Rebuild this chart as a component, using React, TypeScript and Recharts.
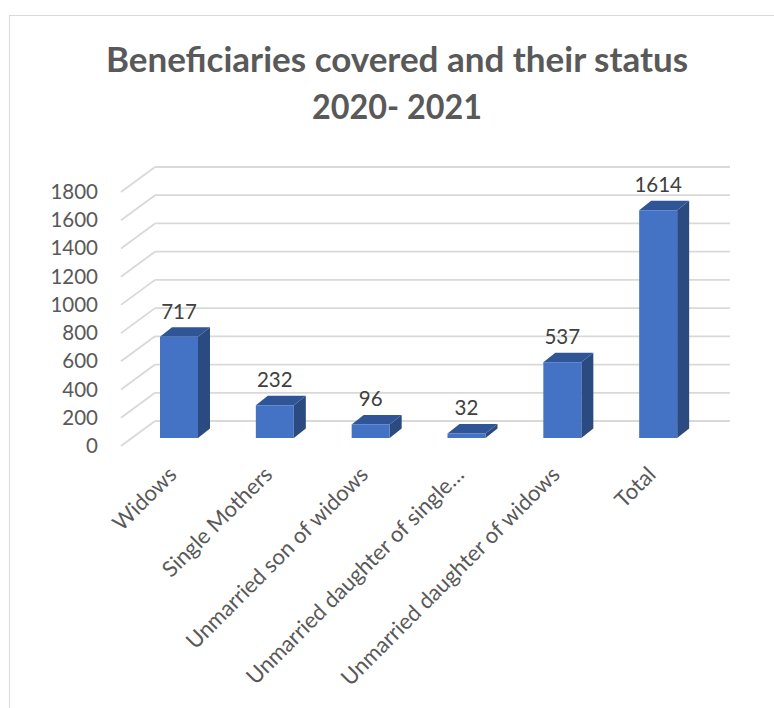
import { Bar, CartesianGrid, ComposedChart, LabelList, XAxis, YAxis } from 'recharts'

const categories = [
  'Widows',
  'Single Mothers',
  'Unmarried son of widows',
  'Unmarried daughter of single…',
  'Unmarried daughter of widows',
  'Total',
]
const beneficiaries = [717, 232, 96, 32, 537, 1614]
const yTicks = [0, 200, 400, 600, 800, 1000, 1200, 1400, 1600, 1800]
const titleLines = ['Beneficiaries covered and their status', '2020- 2021']

const rows = categories.map((name, i) => ({ name, value: beneficiaries[i] }))

const FONT = 'Lato, sans-serif'
const TEXT = '#595959'
const GRID = '#d9d9d9'
// fake 3D depth of the bars and of the floor/wall grid
const DEPTH_X = 12
const DEPTH_Y = 9.5

function Bar3D({ x, y, width, height }: any) {
  const r = x + width
  const b = y + height
  return (
    <g>
      <polygon
        points={`${r},${y} ${r + DEPTH_X},${y - DEPTH_Y} ${r + DEPTH_X},${b - DEPTH_Y} ${r},${b}`}
        fill="#2a4a80"
      />
      <polygon
        points={`${x},${y} ${x + DEPTH_X},${y - DEPTH_Y} ${r + DEPTH_X},${y - DEPTH_Y} ${r},${y}`}
        fill="#2f5597"
      />
      <rect x={x} y={y} width={width} height={height} fill="#4472c4" />
    </g>
  )
}

function GridLine({ x1, x2, y1 }: any) {
  return (
    <g stroke={GRID} strokeWidth={1.8} fill="none">
      <line x1={x1 - 10} y1={y1 + 8} x2={x1 + 24} y2={y1 - 17} />
      <line x1={x1 + 24} y1={y1 - 17} x2={x2 + 24} y2={y1 - 17} />
    </g>
  )
}

function YTick({ x, y, payload }: any) {
  return (
    <text x={x} y={y + 15} textAnchor="end" fontFamily={FONT} fontSize={20.5} fill={TEXT}>
      {payload.value}
    </text>
  )
}

function XTick({ x, y, payload }: any) {
  return (
    <text
      x={x - 1}
      y={y + 30}
      textAnchor="end"
      fontFamily={FONT}
      fontSize={22}
      fill={TEXT}
      transform={`rotate(-45 ${x - 1} ${y + 30})`}
    >
      {payload.value}
    </text>
  )
}

export default function App() {
  return (
    <div style={{ position: 'absolute', left: 0, top: 0, width: 774, height: 708, background: '#fff' }}>
      <div
        style={{
          position: 'absolute',
          left: 9,
          top: 15,
          right: 0,
          bottom: 0,
          borderLeft: `1.5px solid ${GRID}`,
          borderTop: `1.5px solid ${GRID}`,
        }}
      />
      <ComposedChart
        width={774}
        height={708}
        data={rows}
        margin={{ top: 184, right: 68, left: 51, bottom: 0 }}
        style={{ position: 'absolute', left: 0, top: 0 }}
      >
        <text x={397} y={72} textAnchor="middle" fontFamily={FONT} fontWeight={700} fontSize={35} fill={TEXT}>
          {titleLines[0]}
        </text>
        <text
          x={397}
          y={119}
          textAnchor="middle"
          fontFamily={FONT}
          fontWeight={700}
          fontSize={35}
          fill={TEXT}
          textLength={170}
          lengthAdjust="spacingAndGlyphs"
        >
          {titleLines[1]}
        </text>
        <CartesianGrid vertical={false} horizontal={(p: any) => <GridLine key={p.key} {...p} />} />
        <XAxis dataKey="name" interval={0} height={270} tick={XTick} tickLine={false} axisLine={false} />
        <YAxis
          domain={[0, 1800]}
          ticks={yTicks}
          width={80}
          tick={YTick}
          tickMargin={27}
          tickLine={false}
          axisLine={false}
        />
        <Bar dataKey="value" barSize={38} shape={Bar3D} isAnimationActive={false}>
          <LabelList
            dataKey="value"
            position="top"
            offset={18}
            fontFamily={FONT}
            fontSize={20.5}
            fill="#404040"
          />
        </Bar>
      </ComposedChart>
    </div>
  )
}
